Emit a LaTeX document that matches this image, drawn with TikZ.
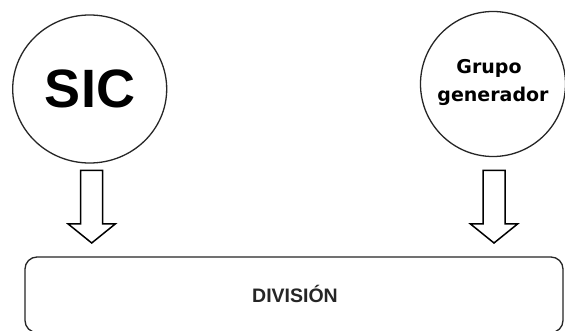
\documentclass[tikz,border=0pt]{standalone}
\usepackage{fontspec}
\setmainfont{Liberation Sans}
\newfontfamily\djv{DejaVu Sans}
\begin{document}
\begin{tikzpicture}[x=1pt,y=-1pt,
  bubble/.style={draw=black!85, line width=1.3pt, fill=white, inner sep=0pt},
  blockarrow/.style={draw=black, line width=1.5pt, fill=white, line join=miter},
  panel/.style={draw=black!85, line width=1.3pt, rounded corners=12pt}]
\useasboundingbox (0,0) rectangle (565,331);
\fill[white] (0,0) rectangle (565,331);
% circles
\draw[bubble] (89.7,89) ellipse [x radius=77, y radius=74];
\node[anchor=base, font=\bfseries\fontsize{54}{54}\selectfont] (sic) at (90,108) {SIC};
\draw[bubble] (493,84) circle [radius=72.5];
\node[anchor=base, font=\djv\bfseries\fontsize{19}{19}\selectfont] (grupo) at (489,74) {Grupo};
\node[anchor=base, font=\djv\bfseries\fontsize{19}{19}\selectfont] (gen) at (493,101.7) {generador};
% bottom panel
\draw[panel] (25,257) rectangle (563,332.5);
\node[anchor=base, font=\bfseries\fontsize{19.5}{19.5}\selectfont, text=black!85] (div) at (295,302) {DIVISIÓN};
% block arrows
\draw[blockarrow] (80.7,170.5) -- (102.7,170.5) -- (102.7,224) -- (115.2,224) -- (91.7,243) -- (68.2,224) -- (80.7,224) -- cycle;
\draw[blockarrow] (483,170.5) -- (505,170.5) -- (505,224) -- (517.5,224) -- (494,243) -- (470.5,224) -- (483,224) -- cycle;
\end{tikzpicture}
\end{document}
